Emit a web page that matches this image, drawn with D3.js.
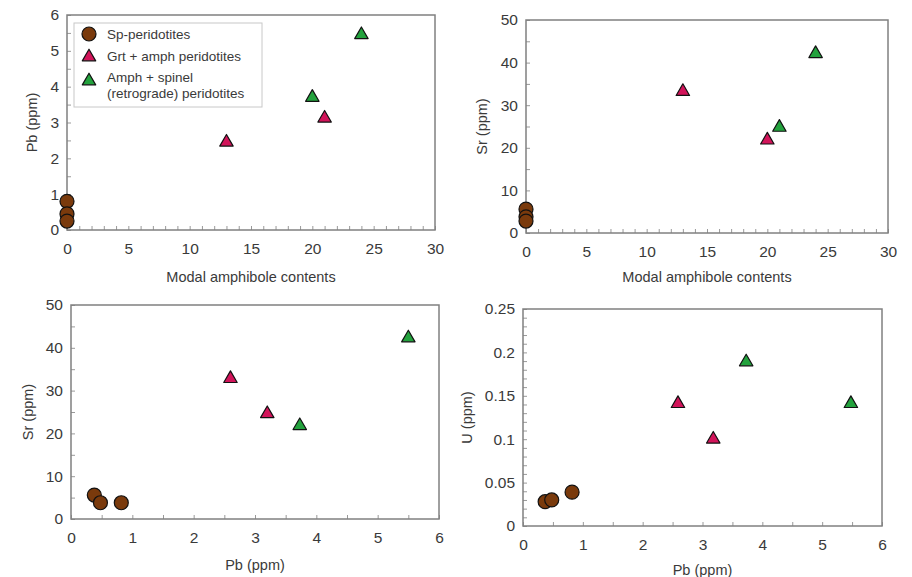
<!DOCTYPE html>
<html>
<head>
<meta charset="utf-8">
<script src="https://cdn.jsdelivr.net/npm/d3@7"></script>
<style>
  body { margin: 0; background: #fff; }
  svg { display: block; font-family: "Liberation Sans", Arial, sans-serif; }
</style>
</head>
<body>
<div id="chart"></div>
<script>
// series names
const groups = ["Sp-peridotites", "Grt + amph peridotites", "Amph + spinel\n(retrograde) peridotites"];

// per-sample values, one array per group
const spModal = [0, 0, 0];
const spPbA = [0.8, 0.45, 0.25];
const spSrA = [5.6, 3.8, 2.8];
const spPb = [0.38, 0.48, 0.82];
const spSr = [5.6, 3.8, 3.8];
const spPbU = [0.37, 0.48, 0.82];
const spU = [0.028, 0.030, 0.039];

const grtModalPb = [13, 21];
const grtPbA = [2.45, 3.12];
const grtModalSr = [13, 20];
const grtSrA = [33.2, 21.8];
const grtPb = [2.6, 3.2];
const grtSr = [32.8, 24.6];
const grtPbU = [2.59, 3.18];
const grtU = [0.141, 0.100];

const amphModalPb = [20, 24];
const amphPbA = [3.7, 5.45];
const amphModalSr = [21, 24];
const amphSrA = [24.8, 42.1];
const amphPb = [3.73, 5.5];
const amphSr = [21.8, 42.3];
const amphPbU = [3.73, 5.48];
const amphU = [0.189, 0.141];

// axes
const modalTicks = [0, 5, 10, 15, 20, 25, 30];
const pbTicksSmall = [0, 1, 2, 3, 4, 5, 6];
const srTicks = [0, 10, 20, 30, 40, 50];
const uTicks = [0, 0.05, 0.1, 0.15, 0.2, 0.25];

const zip = (xs, ys) => xs.map((x, i) => ({x, y: ys[i]}));

const panels = [
  {box: [67, 435, 15, 230], xDom: [0, 30], yDom: [0, 6], xTicks: modalTicks, yTicks: pbTicksSmall,
   xMinor: 1, yMinor: 0.5, xTitle: "Modal amphibole contents", yTitle: "Pb (ppm)", yTitleOff: 35, xTitleOff: 52,
   sets: [zip(spModal, spPbA), zip(grtModalPb, grtPbA), zip(amphModalPb, amphPbA)], legend: true},
  {box: [526, 888, 20, 233], xDom: [0, 30], yDom: [0, 50], xTicks: modalTicks, yTicks: srTicks,
   xMinor: 1, yMinor: 5, xTitle: "Modal amphibole contents", yTitle: "Sr (ppm)", yTitleOff: 44, xTitleOff: 49,
   sets: [zip(spModal, spSrA), zip(grtModalSr, grtSrA), zip(amphModalSr, amphSrA)]},
  {box: [71, 439, 305, 519], xDom: [0, 6], yDom: [0, 50], xTicks: pbTicksSmall, yTicks: srTicks,
   xMinor: 0.5, yMinor: 5, xTitle: "Pb (ppm)", yTitle: "Sr (ppm)", yTitleOff: 43, xTitleOff: 51,
   sets: [zip(spPb, spSr), zip(grtPb, grtSr), zip(amphPb, amphSr)]},
  {box: [523, 882, 309, 526], xDom: [0, 6], yDom: [0, 0.25], xTicks: pbTicksSmall, yTicks: uTicks,
   xMinor: 0.5, yMinor: 0.01, xTitle: "Pb (ppm)", yTitle: "U (ppm)", yTitleOff: 56, xTitleOff: 49,
   sets: [zip(spPbU, spU), zip(grtPbU, grtU), zip(amphPbU, amphU)]}
];

const fills = ["#7a3a0c", "#d2145a", "#23a23d"];
const textColor = "#3a3a3a";
const frameColor = "#808080";

const svg = d3.select("#chart").append("svg")
  .attr("width", 912).attr("height", 577)
  .attr("viewBox", [0, 0, 912, 577]);

const tri = d3.symbol().type(d3.symbolTriangle).size(78);

function drawMarker(g, kind, x, y) {
  if (kind === 0) {
    g.append("circle").attr("cx", x).attr("cy", y).attr("r", 7)
      .attr("fill", fills[0]).attr("stroke", "#111").attr("stroke-width", 1.2);
  } else {
    g.append("path").attr("d", tri).attr("transform", `translate(${x},${y})`)
      .attr("fill", fills[kind]).attr("stroke", "#111").attr("stroke-width", 1.2)
      .attr("stroke-linejoin", "round");
  }
}

function range(a, b, step) {
  const out = [];
  const n = Math.round((b - a) / step);
  for (let i = 0; i <= n; i++) out.push(a + i * step);
  return out;
}

panels.forEach(p => {
  const [l, r, t, b] = p.box;
  const x = d3.scaleLinear().domain(p.xDom).range([l, r]);
  const y = d3.scaleLinear().domain(p.yDom).range([b, t]);
  const g = svg.append("g");

  // inward ticks
  const xM = range(p.xDom[0], p.xDom[1], p.xMinor);
  const yM = range(p.yDom[0], p.yDom[1], p.yMinor);
  g.append("g").attr("transform", `translate(0,${b})`)
    .call(d3.axisTop(x).tickValues(xM).tickSize(4).tickFormat(""))
    .call(a => a.select(".domain").remove())
    .call(a => a.selectAll("line").attr("stroke", "#999"));
  g.append("g").attr("transform", `translate(${l},0)`)
    .call(d3.axisRight(y).tickValues(yM).tickSize(4).tickFormat(""))
    .call(a => a.select(".domain").remove())
    .call(a => a.selectAll("line").attr("stroke", "#999"));

  // tick labels
  g.append("g").attr("transform", `translate(0,${b})`)
    .call(d3.axisBottom(x).tickValues(p.xTicks).tickSize(0).tickPadding(13).tickFormat(d3.format("")))
    .call(a => a.select(".domain").remove())
    .call(a => a.selectAll("text").attr("fill", textColor).attr("font-size", 15.5)
      .attr("font-family", "Liberation Sans, Arial, sans-serif"));
  g.append("g").attr("transform", `translate(${l},0)`)
    .call(d3.axisLeft(y).tickValues(p.yTicks).tickSize(0).tickPadding(8).tickFormat(d3.format("")))
    .call(a => a.select(".domain").remove())
    .call(a => a.selectAll("text").attr("fill", textColor).attr("font-size", 15.5)
      .attr("font-family", "Liberation Sans, Arial, sans-serif"));

  // frame
  g.append("rect").attr("x", l).attr("y", t).attr("width", r - l).attr("height", b - t)
    .attr("fill", "none").attr("stroke", frameColor).attr("stroke-width", 1.5);

  // titles
  g.append("text").attr("x", (l + r) / 2).attr("y", b + p.xTitleOff)
    .attr("text-anchor", "middle").attr("fill", textColor).attr("font-size", 14.5)
    .text(p.xTitle);
  g.append("text")
    .attr("transform", `translate(${l - p.yTitleOff},${(t + b) / 2}) rotate(-90)`)
    .attr("text-anchor", "middle").attr("dy", "0.35em").attr("fill", textColor).attr("font-size", 14.5)
    .text(p.yTitle);

  // markers
  p.sets.forEach((set, k) => set.forEach(d => drawMarker(g, k, x(d.x), y(d.y))));

  if (p.legend) {
    const lg = g.append("g").attr("transform", `translate(${l + 7},${t + 8})`);
    lg.append("rect").attr("width", 188).attr("height", 84)
      .attr("fill", "#fff").attr("stroke", "#c8c8c8").attr("stroke-width", 1);
    const rows = [11, 33, 57];
    groups.forEach((name, k) => {
      drawMarker(lg, k, 15, rows[k] + (k ? 1 : 0));
      name.split("\n").forEach((line, j) => {
        lg.append("text").attr("x", 33).attr("y", rows[k] + (k === 2 ? -3 : 0) + j * 16)
          .attr("dy", "0.35em").attr("fill", textColor).attr("font-size", 13.5).text(line);
      });
    });
  }
});
</script>
</body>
</html>
